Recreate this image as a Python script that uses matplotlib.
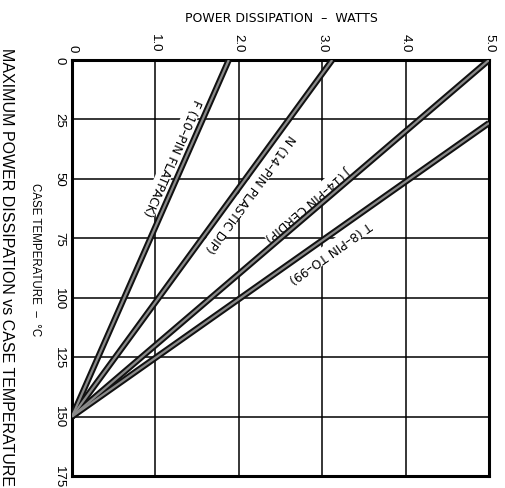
import numpy as np
import matplotlib
matplotlib.use("Agg")
import matplotlib.pyplot as plt

# ---------------- data ----------------
power_ticks = [0, 1, 2, 3, 4, 5]
power_tick_labels = ["0", "1.0", "2.0", "3.0", "4.0", "5.0"]
temp_ticks = [0, 25, 50, 75, 100, 125, 150, 175]
temp_tick_labels = ["0", "25", "50", "75", "100", "125", "150", "175"]

packages = ["F (10\u2013PIN FLATPACK)", "N (14\u2013PIN PLASTIC DIP)",
            "J (14\u2013PIN CERDIP)", "T (8\u2013PIN TO\u201399)"]
# derating lines: case temperature (degC) and max power (W) at the two ends
pkg_temps = [[0, 150], [0, 150], [0, 150], [26.5, 150]]
pkg_power = [[1.88, 0.0], [3.12, 0.0], [5.0, 0.0], [5.0, 0.0]]

# ---------------- layout ----------------
W, H, DPI = 506, 489, 100
fig = plt.figure(figsize=(W / DPI, H / DPI), dpi=DPI)
fig.patch.set_facecolor("white")
ax_l, ax_r, ax_t, ax_b = 72, 489, 61, 477
ax = fig.add_axes([ax_l / W, 1 - ax_b / H, (ax_r - ax_l) / W, (ax_b - ax_t) / H])
ax.set_xlim(0, 5)
ax.set_ylim(175, 0)

tick_font = "Liberation Sans"
ax.xaxis.tick_top()
ax.set_xticks(power_ticks, power_tick_labels)
ax.set_yticks(temp_ticks, temp_tick_labels)
ax.tick_params(axis="x", length=0, pad=6)
ax.tick_params(axis="y", length=0, pad=5)
for lab in ax.get_xticklabels():
    lab.set_rotation(-90)
    lab.set_fontfamily(tick_font)
    lab.set_fontsize(9.5)
    lab.set_ha("center")
    lab.set_va("bottom")
for lab in ax.get_yticklabels():
    lab.set_rotation(-90)
    lab.set_fontfamily(tick_font)
    lab.set_fontsize(9.5)
    lab.set_ha("right")
    lab.set_va("center")

ax.grid(True, color="black", linewidth=1.1, zorder=1)
ax.set_axisbelow(True)
for s in ax.spines.values():
    s.set_linewidth(2.2)
    s.set_color("black")

# derating lines
for temps, pw in zip(pkg_temps, pkg_power):
    ax.plot(pw, temps, color="#111111", linewidth=4.5, solid_capstyle="butt", zorder=3)
    ax.plot(pw, temps, color="#8a8a8a", linewidth=1.6, solid_capstyle="butt", zorder=4)

# line labels (placed along each line, offset to one side)
label_temp = [43, 53, 63, 76]
label_off_px = [-13, 11, -9, 13]
for name, temps, pw, lt, off in zip(packages, pkg_temps, pkg_power, label_temp, label_off_px):
    p0 = ax.transData.transform((pw[0], temps[0]))
    p1 = ax.transData.transform((pw[1], temps[1]))
    d = p1 - p0
    ang = np.degrees(np.arctan2(d[1], d[0]))
    th = np.radians(ang)
    up = np.array([-np.sin(th), np.cos(th)])
    px = np.interp(lt, temps, pw)
    ax.annotate(name, xy=(px, lt), xytext=(up[0] * off * 0.72, up[1] * off * 0.72),
                textcoords="offset points", rotation=ang, rotation_mode="anchor",
                ha="center", va="center", fontsize=8.8, family="DejaVu Sans",
                bbox=dict(facecolor="white", edgecolor="none", pad=1.0), zorder=2)

# axis titles
fig.text(281 / W, 1 - 18 / H, "POWER DISSIPATION  \u2013  WATTS", ha="center", va="center",
         fontsize=9.0, family="DejaVu Sans")
fig.text(35 / W, 1 - 260 / H, "CASE TEMPERATURE  \u2013  \u00b0C", ha="center", va="center",
         rotation=-90, fontsize=8.3, family="Liberation Sans")
fig.text(6 / W, 1 - 267 / H, "MAXIMUM POWER DISSIPATION vs CASE TEMPERATURE", ha="center",
         va="center", rotation=-90, fontsize=11.5, family="Liberation Sans")

fig.savefig("out.png", dpi=DPI, facecolor="white")
